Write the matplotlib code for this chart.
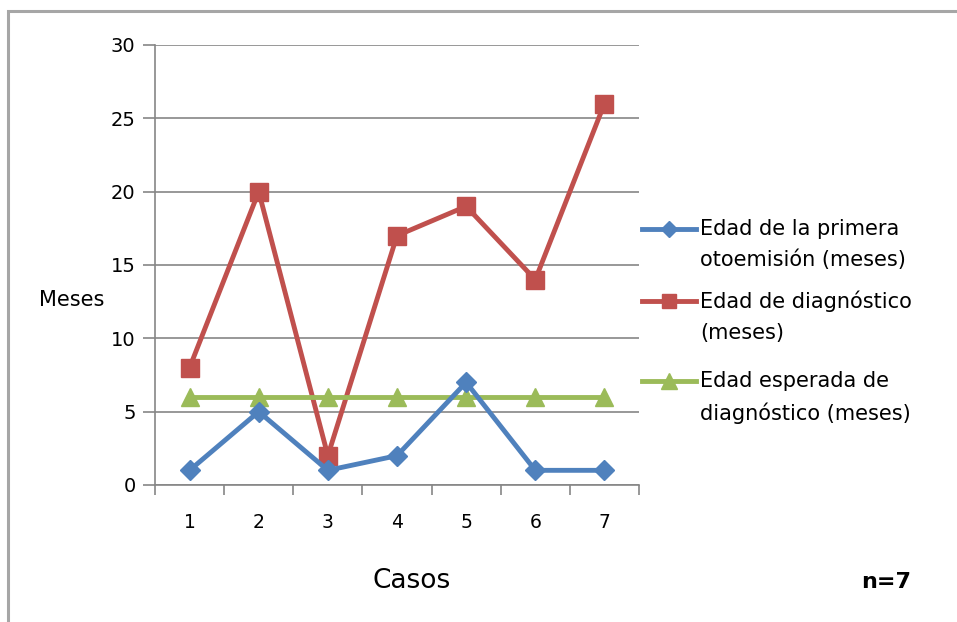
import matplotlib.pyplot as plt
from matplotlib.lines import Line2D
from matplotlib.patches import Rectangle

# datos
casos = [1, 2, 3, 4, 5, 6, 7]
primera_otoemision = [1, 5, 1, 2, 7, 1, 1]
edad_diagnostico = [8, 20, 2, 17, 19, 14, 26]
edad_esperada = [6, 6, 6, 6, 6, 6, 6]

etiquetas = ['Edad de la primera\notoemisión (meses)',
             'Edad de diagnóstico\n(meses)',
             'Edad esperada de\ndiagnóstico (meses)']
colores = ['#4F81BD', '#C0504D', '#9BBB59']
marcadores = ['D', 's', '^']
tam_marc = [10, 12.5, 13]

gris = '#868686'
W, H = 957, 622

fig = plt.figure(figsize=(9.57, 6.22), dpi=100)
ax = fig.add_axes([155 / W, 1 - 485 / H, (639 - 155) / W, (485 - 45) / H])

# marco exterior
fig.patches.append(Rectangle((8 / W, -0.05), 1.2, 1 - 11 / H + 0.05,
                             transform=fig.transFigure, fill=False,
                             edgecolor='#a6a6a6', linewidth=2.2))

series = [primera_otoemision, edad_diagnostico, edad_esperada]
orden_z = [5, 3, 4]
for vals, c, m, ms, z in zip(series, colores, marcadores, tam_marc, orden_z):
    ax.plot(casos, vals, color=c, marker=m, markersize=ms, linewidth=3.5,
            zorder=z, clip_on=False)

ax.set_xlim(0.5, 7.5)
ax.set_ylim(0, 30)
ax.set_yticks(range(0, 31, 5))
ax.set_xticks(casos)
ax.set_xticks([x + 0.5 for x in range(0, 8)], minor=True)
ax.grid(axis='y', color=gris, linewidth=1.2)
ax.set_axisbelow(True)

for s in ['top', 'right']:
    ax.spines[s].set_visible(False)
for s in ['left', 'bottom']:
    ax.spines[s].set_color(gris)
    ax.spines[s].set_linewidth(1.2)

ax.tick_params(axis='y', which='major', length=9, width=1.2, color=gris,
               labelsize=14, pad=5)
ax.tick_params(axis='x', which='major', length=0, labelsize=13.5, pad=20)
ax.tick_params(axis='x', which='minor', length=7, width=1.2, color=gris)

fig.text(72 / W, 1 - 300 / H, 'Meses', ha='center', va='center', fontsize=15)
fig.text(412 / W, 1 - 581 / H, 'Casos', ha='center', va='center', fontsize=19)
fig.text(886 / W, 1 - 582 / H, 'n=7', ha='center', va='center', fontsize=16,
         fontweight='bold')

# leyenda a la derecha
y_mango = [229, 301, 381]
for lab, c, m, ms, y in zip(etiquetas, colores, marcadores, tam_marc, y_mango):
    fig.lines.append(Line2D([642 / W, 696 / W], [1 - y / H, 1 - y / H],
                            transform=fig.transFigure, color=c, linewidth=3.5))
    fig.lines.append(Line2D([669 / W], [1 - y / H], transform=fig.transFigure,
                            color=c, marker=m, markersize=ms * 0.85))
    fig.text(700 / W, 1 - (y - 10) / H, lab, ha='left', va='top',
             fontsize=15, linespacing=1.65)

fig.savefig('out.png', dpi=100)
